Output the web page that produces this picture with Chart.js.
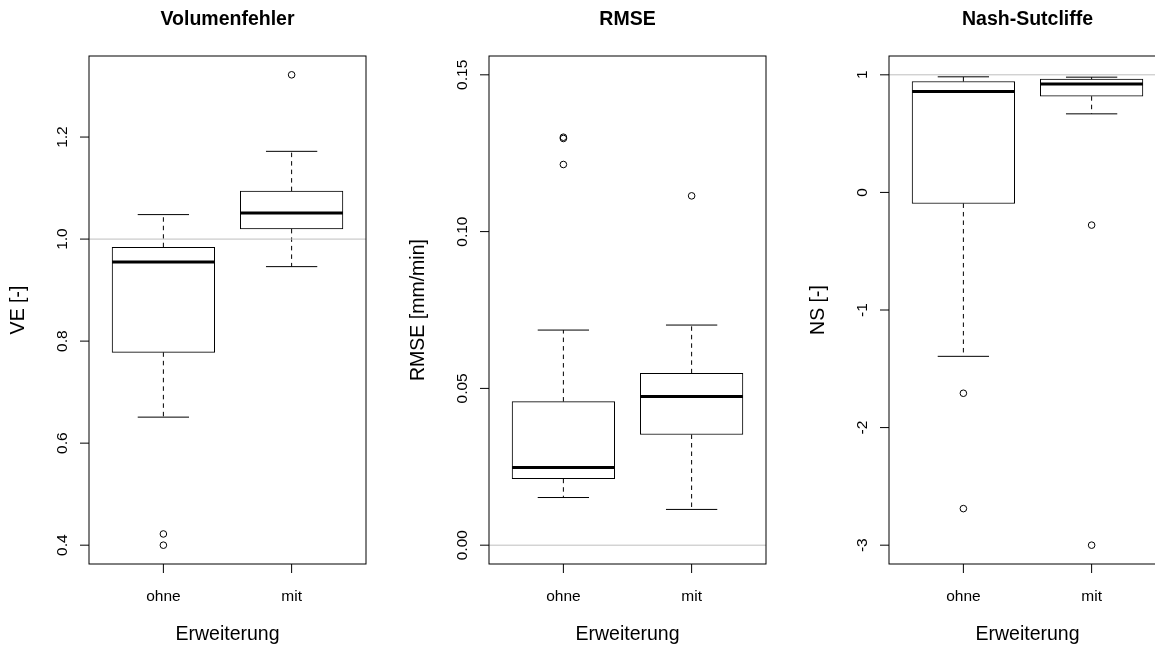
<!DOCTYPE html>
<html>
<head>
<meta charset="utf-8">
<script src="https://cdn.jsdelivr.net/npm/chart.js"></script>
<style>
  html, body { margin: 0; padding: 0; background: #fff; }
  #wrap { width: 1155px; height: 646px; overflow: hidden; display: flex; }
  #wrap canvas { flex: none; }
</style>
</head>
<body>
<div id="wrap">
  <canvas id="veChart" width="400" height="646"></canvas>
  <canvas id="rmseChart" width="400" height="646"></canvas>
  <canvas id="nsChart" width="400" height="646"></canvas>
</div>
<script>
const groups = ["ohne", "mit"];

// box values: [lower whisker, Q1, median, Q3, upper whisker]
const veOhne = [0.651, 0.778, 0.955, 0.984, 1.048];
const veMit = [0.946, 1.020, 1.051, 1.094, 1.172];
const veOutOhne = [0.422, 0.400];
const veOutMit = [1.322];
const veTicks = [0.4, 0.6, 0.8, 1.0, 1.2];
const veTickLabels = ["0.4", "0.6", "0.8", "1.0", "1.2"];
const veLim = [0.4, 1.322];

const rmseOhne = [0.0152, 0.0212, 0.0248, 0.0458, 0.0686];
const rmseMit = [0.0114, 0.0353, 0.0474, 0.0548, 0.0702];
const rmseOutOhne = [0.1301, 0.1297, 0.1214];
const rmseOutMit = [0.1114];
const rmseTicks = [0, 0.05, 0.10, 0.15];
const rmseTickLabels = ["0.00", "0.05", "0.10", "0.15"];
const rmseLim = [0, 0.15];

const nsOhne = [-1.394, -0.094, 0.858, 0.943, 0.983];
const nsMit = [0.668, 0.818, 0.921, 0.963, 0.980];
const nsOutOhne = [-1.708, -2.689];
const nsOutMit = [-0.278, -3.0];
const nsTicks = [-3, -2, -1, 0, 1];
const nsTickLabels = ["-3", "-2", "-1", "0", "1"];
const nsLim = [-3, 1];

const FONT = '"Liberation Sans", Arial, Helvetica, sans-serif';
const BOX_PX = 102.6; // boxwex 0.8 at this plot width

// draws whiskers, medians, reference line, frame and R-like axes
const rBoxPlugin = {
  id: "rBox",
  afterDatasetsDraw(chart, args, opts) {
    const ctx = chart.ctx;
    const xs = chart.scales.x;
    const ys = chart.scales.y;
    const area = chart.chartArea;

    ctx.save();
    // whiskers + staples
    opts.boxes.forEach((b, i) => {
      const cx = xs.getPixelForValue(i + 1);
      const capHalf = BOX_PX / 4;
      ctx.strokeStyle = "#000";
      ctx.lineWidth = 1;
      ctx.setLineDash([4.5, 4]);
      ctx.beginPath();
      ctx.moveTo(cx, ys.getPixelForValue(b[3]));
      ctx.lineTo(cx, ys.getPixelForValue(b[4]));
      ctx.moveTo(cx, ys.getPixelForValue(b[1]));
      ctx.lineTo(cx, ys.getPixelForValue(b[0]));
      ctx.stroke();
      ctx.setLineDash([]);
      ctx.beginPath();
      [b[0], b[4]].forEach((v) => {
        const y = ys.getPixelForValue(v);
        ctx.moveTo(cx - capHalf, y);
        ctx.lineTo(cx + capHalf, y);
      });
      ctx.stroke();
      // median
      ctx.lineWidth = 3;
      ctx.beginPath();
      const my = ys.getPixelForValue(b[2]);
      ctx.moveTo(cx - BOX_PX / 2, my);
      ctx.lineTo(cx + BOX_PX / 2, my);
      ctx.stroke();
    });

    // grey reference line (abline)
    const ry = ys.getPixelForValue(opts.refLine);
    ctx.strokeStyle = "#bebebe";
    ctx.lineWidth = 1;
    ctx.beginPath();
    ctx.moveTo(area.left, ry);
    ctx.lineTo(area.right, ry);
    ctx.stroke();

    // frame
    ctx.strokeStyle = "#000";
    ctx.strokeRect(area.left, area.top, area.right - area.left, area.bottom - area.top);

    // axis ticks
    ctx.beginPath();
    groups.forEach((g, i) => {
      const x = xs.getPixelForValue(i + 1);
      ctx.moveTo(x, area.bottom);
      ctx.lineTo(x, area.bottom + 9);
    });
    opts.ticks.forEach((v) => {
      const y = ys.getPixelForValue(v);
      ctx.moveTo(area.left, y);
      ctx.lineTo(area.left - 9, y);
    });
    ctx.stroke();

    // texts
    const cx = (area.left + area.right) / 2;
    const cy = (area.top + area.bottom) / 2;
    ctx.fillStyle = "#000";
    ctx.textAlign = "center";
    ctx.textBaseline = "alphabetic";

    ctx.font = "bold 19.5px " + FONT;
    ctx.fillText(opts.title, cx, area.top - 31);

    ctx.font = "15.5px " + FONT;
    groups.forEach((g, i) => {
      ctx.fillText(g, xs.getPixelForValue(i + 1), area.bottom + 36.5);
    });
    ctx.font = "19.5px " + FONT;
    ctx.fillText("Erweiterung", cx, area.bottom + 76);

    ctx.font = "15.5px " + FONT;
    opts.ticks.forEach((v, k) => {
      ctx.save();
      ctx.translate(area.left - 22.5, ys.getPixelForValue(v));
      ctx.rotate(-Math.PI / 2);
      ctx.fillText(opts.tickLabels[k], 0, 0);
      ctx.restore();
    });

    ctx.font = "19.5px " + FONT;
    ctx.save();
    ctx.translate(area.left - 65, cy);
    ctx.rotate(-Math.PI / 2);
    ctx.fillText(opts.yTitle, 0, 0);
    ctx.restore();

    ctx.restore();
  },
};

function makeBoxChart(id, title, yTitle, boxes, outliers, ticks, tickLabels, lim, refLine) {
  const ext = (lim[1] - lim[0]) * 0.04;
  const outPoints = [];
  outliers.forEach((list, i) => {
    list.forEach((v) => outPoints.push({ x: i + 1, y: v }));
  });

  return new Chart(document.getElementById(id), {
    type: "bar",
    data: {
      datasets: [
        {
          type: "bar",
          data: boxes.map((b, i) => ({ x: i + 1, y: [b[1], b[3]] })),
          backgroundColor: "#ffffff",
          borderColor: "#000000",
          borderWidth: 1,
          borderSkipped: false,
          barThickness: BOX_PX,
        },
        {
          type: "scatter",
          data: outPoints,
          pointRadius: 3.3,
          pointBorderWidth: 1,
          pointBorderColor: "#000000",
          pointBackgroundColor: "rgba(0,0,0,0)",
        },
      ],
    },
    options: {
      responsive: false,
      animation: false,
      devicePixelRatio: 1,
      layout: { padding: { left: 89, right: 34, top: 56, bottom: 82 } },
      plugins: {
        legend: { display: false },
        tooltip: { enabled: false },
        rBox: { title, yTitle, boxes, ticks, tickLabels, refLine },
      },
      scales: {
        x: { type: "linear", min: 0.42, max: 2.58, offset: false, display: false },
        y: { type: "linear", min: lim[0] - ext, max: lim[1] + ext, display: false },
      },
    },
    plugins: [rBoxPlugin],
  });
}

makeBoxChart("veChart", "Volumenfehler", "VE [-]", [veOhne, veMit], [veOutOhne, veOutMit],
  veTicks, veTickLabels, veLim, 1);
makeBoxChart("rmseChart", "RMSE", "RMSE [mm/min]", [rmseOhne, rmseMit], [rmseOutOhne, rmseOutMit],
  rmseTicks, rmseTickLabels, rmseLim, 0);
makeBoxChart("nsChart", "Nash-Sutcliffe", "NS [-]", [nsOhne, nsMit], [nsOutOhne, nsOutMit],
  nsTicks, nsTickLabels, nsLim, 1);
</script>
</body>
</html>
